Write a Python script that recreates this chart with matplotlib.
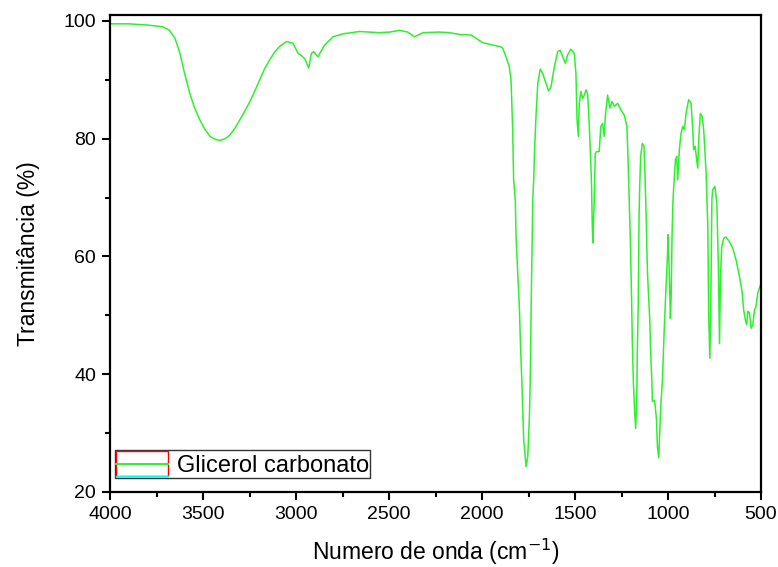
import matplotlib
matplotlib.use("Agg")
import matplotlib.pyplot as plt
from matplotlib.legend_handler import HandlerBase
from matplotlib.lines import Line2D
from matplotlib.patches import Rectangle
from matplotlib.ticker import MultipleLocator

plt.rcParams['font.family'] = ['Liberation Sans', 'DejaVu Sans']

# FTIR spectrum (cm-1, %T)
wavenumber = [
    4000, 3900, 3800, 3716, 3680, 3650, 3624, 3600, 3571, 3545, 3517, 3490,
    3463, 3435, 3410, 3380, 3356, 3330, 3302, 3275, 3248, 3220, 3195, 3170,
    3141, 3115, 3087, 3051, 3016, 2989, 2975, 2953, 2932, 2917, 2905,
    2882, 2846, 2801, 2748, 2658, 2551, 2497, 2443, 2399, 2363, 2318, 2229,
    2175, 2121, 2059, 1996, 1942, 1900, 1889, 1871, 1853, 1844, 1835, 1830,
    1821, 1817, 1808, 1799, 1794, 1786, 1781, 1776, 1768, 1763, 1754, 1745,
    1740, 1736, 1731, 1727, 1722, 1718, 1709, 1700, 1687, 1674, 1656, 1642,
    1629, 1611, 1593, 1580, 1566, 1552, 1540, 1522, 1504, 1495, 1489, 1482,
    1477, 1468, 1459, 1450, 1441, 1432, 1423, 1414, 1411, 1407, 1404, 1396,
    1391, 1384, 1370, 1361, 1352, 1343, 1337, 1325, 1312, 1301, 1289, 1271,
    1253, 1235, 1221, 1214, 1209, 1203, 1196, 1192, 1186, 1179, 1174, 1168,
    1165, 1160, 1156, 1152, 1147, 1138, 1129, 1124, 1117, 1111, 1107, 1098,
    1093, 1087, 1084, 1075, 1070, 1062, 1057, 1050, 1044, 1039, 1030, 1021,
    1012, 1003, 1000, 994, 987, 983, 978, 973, 969, 960, 953, 948,
    939, 930, 921, 912, 903, 889, 876, 867, 862, 854, 848, 840,
    835, 826, 817, 808, 795, 786, 781, 775, 770, 764, 760, 748,
    737, 734, 729, 723, 718, 711, 700, 688, 670, 652, 634, 616,
    602, 593, 584, 577, 571, 562, 553, 544, 535, 527, 517, 505,
]
transmittance = [
    99.5, 99.5, 99.3, 99.0, 98.4, 97.0, 94.5, 91.2, 87.7, 85.2, 83.2, 81.6,
    80.4, 79.9, 79.7, 80.0, 80.6, 81.7, 83.2, 84.7, 86.3, 88.2, 90.0, 91.8,
    93.4, 94.7, 95.7, 96.5, 96.2, 94.5, 94.2, 93.6, 92.0, 94.5, 94.8,
    93.9, 95.9, 97.3, 97.8, 98.2, 98.0, 98.1, 98.4, 98.1, 97.3, 98.0, 98.1,
    98.0, 97.7, 97.6, 96.3, 95.9, 95.6, 95.4, 93.9, 92.2, 90.0, 81.5, 73.0,
    69.6, 63.4, 57.2, 51.5, 45.8, 39.0, 34.0, 28.9, 26.0, 24.3, 26.0, 32.8,
    40.2, 50.9, 61.7, 69.6, 73.0, 77.5, 84.3, 89.4, 91.8, 91.1, 89.4, 88.1,
    88.8, 92.2, 94.8, 95.0, 93.9, 92.8, 94.2, 95.2, 94.5, 91.1, 83.2, 80.4,
    86.0, 88.0, 86.8, 87.4, 88.3, 87.6, 82.1, 75.0, 72.0, 65.1, 62.3, 70.2,
    77.5, 77.8, 77.8, 82.1, 82.6, 80.4, 83.8, 87.4, 85.2, 86.3, 85.5, 86.0,
    84.9, 84.0, 82.1, 75.8, 70.2, 63.4, 53.2, 45.8, 38.5, 33.4, 30.8, 35.6,
    43.6, 52.0, 66.0, 72.0, 77.0, 79.2, 78.7, 74.1, 66.2, 58.0, 54.9, 49.2,
    43.6, 39.0, 35.4, 35.6, 35.0, 32.3, 27.7, 25.8, 30.6, 34.5, 39.0, 47.0,
    53.8, 60.0, 63.7, 58.3, 49.5, 53.2, 64.0, 69.6, 71.9, 76.4, 77.0, 73.0,
    78.1, 80.9, 82.1, 81.5, 84.3, 86.6, 86.0, 81.5, 78.1, 78.7, 77.0, 75.0,
    79.8, 84.3, 83.8, 81.5, 74.1, 65.1, 49.8, 42.7, 51.5, 69.6, 71.3, 71.9,
    69.0, 64.5, 58.3, 45.2, 56.6, 61.7, 63.1, 63.3, 62.5, 61.4, 59.4, 56.6,
    54.1, 50.9, 49.2, 48.4, 50.7, 50.4, 47.8, 48.4, 50.9, 51.5, 53.8, 55.0,
]
series_label = "Glicerol carbonato"


class OriginHandle(HandlerBase):
    # red box + green line + cyan base, like the Origin legend swatch
    def create_artists(self, legend, orig_handle, xdescent, ydescent,
                       width, height, fontsize, trans):
        x0, y0 = -xdescent, -ydescent
        box = Rectangle((x0, y0), width, height, fill=False,
                        edgecolor='red', lw=1.0, transform=trans)
        mid = Line2D([x0, x0 + width], [y0 + height / 2] * 2,
                     color='#33ee33', lw=1.5, transform=trans)
        base = Line2D([x0, x0 + width], [y0] * 2,
                      color='cyan', lw=1.0, transform=trans)
        return [box, mid, base]


fig = plt.figure(figsize=(7.78, 5.67), dpi=100)
ax = fig.add_axes([110 / 778, 75 / 567, 651 / 778, 477 / 567])

line, = ax.plot(wavenumber, transmittance, color='#2ef02e', lw=1.1,
                label=series_label)

ax.set_xlim(4000, 500)
ax.set_ylim(20, 101)
ax.xaxis.set_major_locator(MultipleLocator(500))
ax.xaxis.set_minor_locator(MultipleLocator(250))
ax.yaxis.set_major_locator(MultipleLocator(20))
ax.yaxis.set_minor_locator(MultipleLocator(10))
ax.tick_params(which='major', direction='out', length=6, width=1.5,
               labelsize=14, top=False, right=False, pad=4)
ax.tick_params(which='minor', direction='out', length=3.5, width=1.5,
               top=False, right=False)
for s in ax.spines.values():
    s.set_linewidth(1.6)

ax.set_xlabel("Numero de onda (cm$^{-1}$)", fontsize=16.5, labelpad=10)
ax.set_ylabel("Transmitância (%)", fontsize=16.5, labelpad=17)

leg = ax.legend(handles=[line], handler_map={Line2D: OriginHandle()},
                loc='lower left', bbox_to_anchor=(0.008, 0.03),
                borderaxespad=0, fontsize=17, fancybox=False,
                framealpha=1, edgecolor='#333333', handlelength=2.2,
                handleheight=1.3, borderpad=0.05, handletextpad=0.35)
leg.get_frame().set_linewidth(1.0)

fig.savefig("out.png", dpi=100)
